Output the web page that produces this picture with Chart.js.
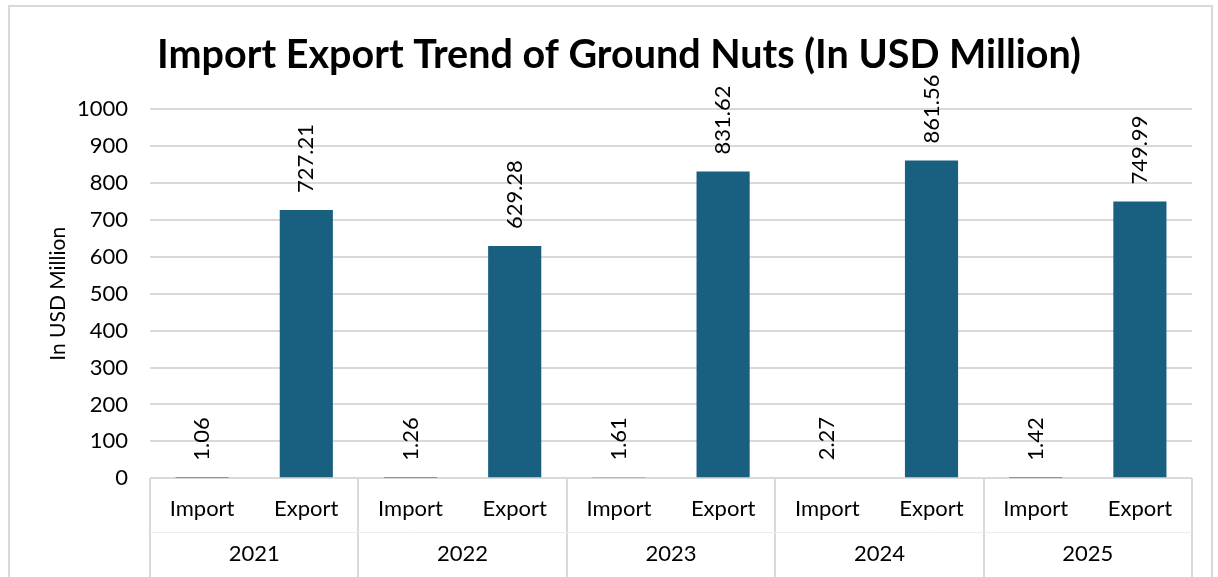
<!DOCTYPE html>
<html>
<head>
<meta charset="utf-8">
<script src="https://cdn.jsdelivr.net/npm/chart.js@4.4.1/dist/chart.umd.min.js"></script>
<style>
  html, body { margin: 0; padding: 0; background: #fff; }
  #frame {
    position: absolute; left: 8px; top: 5px; width: 1205px; height: 600px;
    border: 2px solid #d9d9d9; box-sizing: border-box;
  }
  #wrap { position: absolute; left: 0; top: 0; width: 1218px; height: 577px; }
</style>
</head>
<body>
<div id="frame"></div>
<div id="wrap"><canvas id="chart"></canvas></div>
<script>
const years = ['2021', '2022', '2023', '2024', '2025'];
const flows = ['Import', 'Export'];
const importValues = [1.06, 1.26, 1.61, 2.27, 1.42];
const exportValues = [727.21, 629.28, 831.62, 861.56, 749.99];
const yTicks = [0, 100, 200, 300, 400, 500, 600, 700, 800, 900, 1000];

const barColor = '#185f80';
const font = "Lato, 'Open Sans', sans-serif";

// flatten into one row per year+flow
const labels = [];
const values = [];
years.forEach((y, i) => {
  labels.push(flows[0]); values.push(importValues[i]);
  labels.push(flows[1]); values.push(exportValues[i]);
});

const valueLabels = {
  id: 'valueLabels',
  afterDatasetsDraw(chart) {
    const ctx = chart.ctx;
    const meta = chart.getDatasetMeta(0);
    ctx.save();
    ctx.font = '22px ' + font;
    ctx.fillStyle = '#000';
    ctx.textAlign = 'left';
    ctx.textBaseline = 'middle';
    meta.data.forEach((bar, i) => {
      ctx.save();
      ctx.translate(bar.x, bar.y - 17);
      ctx.rotate(-Math.PI / 2);
      ctx.fillText(values[i].toFixed(2), 0, 0);
      ctx.restore();
    });
    ctx.restore();
  }
};

const groupLines = {
  id: 'groupLines',
  afterDraw(chart) {
    const ctx = chart.ctx;
    const area = chart.chartArea;
    const x2 = chart.scales.x2;
    const step = (area.right - area.left) / years.length;
    ctx.save();
    ctx.strokeStyle = '#d9d9d9';
    ctx.lineWidth = 2;
    ctx.beginPath();
    for (let i = 0; i <= years.length; i++) {
      const x = Math.round(x2.getPixelForTick(Math.min(i, years.length - 1)) + (i === years.length ? step / 2 : -step / 2));
      ctx.moveTo(x, area.bottom);
      ctx.lineTo(x, chart.height);
    }
    ctx.stroke();
    ctx.lineWidth = 1;
    ctx.strokeStyle = '#ececec';
    ctx.beginPath();
    ctx.moveTo(area.left, x2.top);
    ctx.lineTo(area.right, x2.top);
    ctx.stroke();
    ctx.restore();
  }
};

new Chart(document.getElementById('chart').getContext('2d'), {
  type: 'bar',
  data: {
    labels: labels,
    datasets: [{
      data: values,
      backgroundColor: barColor,
      borderWidth: 0,
      categoryPercentage: 1,
      barPercentage: 0.51
    }]
  },
  options: {
    responsive: true,
    maintainAspectRatio: false,
    animation: false,
    layout: { padding: { left: 46, right: 26, top: 0, bottom: 10 } },
    plugins: {
      legend: { display: false },
      tooltip: { enabled: false },
      title: {
        display: true,
        text: 'Import Export Trend of Ground Nuts (In USD Million)',
        color: '#000',
        font: { family: font, size: 39.5, weight: 'bold' },
        padding: { top: 32, bottom: 30 }
      }
    },
    scales: {
      x: {
        grid: { display: false },
        border: { display: false },
        ticks: { color: '#000', font: { family: font, size: 22 }, padding: 10, maxRotation: 0 }
      },
      x2: {
        type: 'category',
        labels: years,
        offset: true,
        grid: { display: false },
        border: { display: false },
        ticks: { color: '#000', font: { family: font, size: 22 }, padding: 0 }
      },
      y: {
        min: 0,
        max: 1000,
        afterBuildTicks(scale) { scale.ticks = yTicks.map(v => ({ value: v })); },
        afterFit(scale) { scale.width = 104; },
        grid: { color: '#d9d9d9', lineWidth: 2, drawTicks: false },
        border: { display: false },
        ticks: {
          color: '#000', font: { family: font, size: 22 }, padding: 22,
          callback: v => String(v)
        },
        title: {
          display: true,
          text: 'In USD Million',
          color: '#000',
          font: { family: font, size: 21 },
          padding: { top: 0, bottom: 6 }
        }
      }
    }
  },
  plugins: [valueLabels, groupLines]
});
</script>
</body>
</html>
